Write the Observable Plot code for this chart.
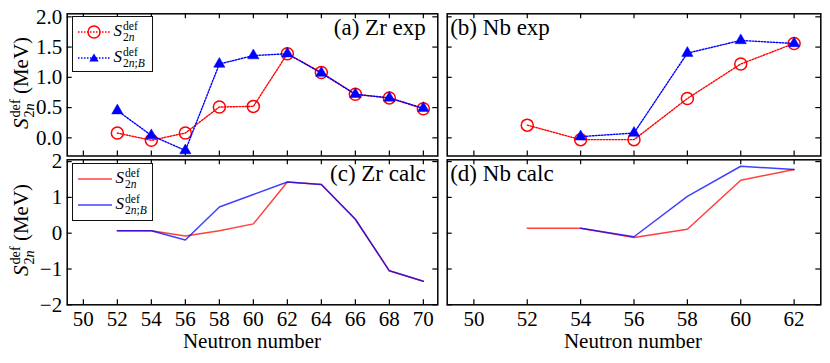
<!DOCTYPE html>
<html><head><meta charset="utf-8">
<script src="https://cdn.jsdelivr.net/npm/d3@7"></script>
<script src="https://cdn.jsdelivr.net/npm/@observablehq/plot@0.6"></script>
<style>
html,body{margin:0;padding:0;background:#fff;}
#root{position:relative;width:830px;height:363px;overflow:hidden;font-family:"Liberation Serif","DejaVu Serif",serif;color:#000;}
#root svg{font-family:"Liberation Serif",serif;}
.S{font-style:italic;}
.ss{display:inline-block;vertical-align:-0.42em;font-size:0.68em;line-height:0.95;margin-left:1px;}
.ss span{display:block;}
.ss i{font-style:italic;}
.legend{position:absolute;border:1.5px solid #111;background:#fff;box-sizing:border-box;font-family:"Liberation Serif",serif;}
.ylab{position:absolute;transform:translate(-50%,-50%) rotate(-90deg);font-size:21px;white-space:nowrap;font-family:"Liberation Serif",serif;}
.xlab{position:absolute;transform:translate(-50%,-50%);font-size:21px;white-space:nowrap;font-family:"Liberation Serif",serif;}
</style></head><body><div id="root"></div>
<script>
// ---- data ----
const neutronZr = [52, 54, 56, 58, 60, 62, 64, 66, 68, 70];
const neutronNb = [52, 54, 56, 58, 60, 62];
const zrExpS2n  = [0.08, -0.04, 0.08, 0.51, 0.52, 1.39, 1.08, 0.72, 0.66, 0.48];
const zrExpS2nB = [0.45, 0.04, -0.21, 1.22, 1.36, 1.39, 1.07, 0.72, 0.66, 0.49];
const nbExpS2n  = [0.21, -0.03, -0.03, 0.65, 1.22, 1.56];
const nbExpS2nB = [null, 0.02, 0.08, 1.40, 1.61, 1.56];
const zrCalcS2n  = [0.07, 0.07, -0.08, 0.07, 0.26, 1.43, 1.36, 0.39, -1.05, -1.34];
const zrCalcS2nB = [0.07, 0.07, -0.19, 0.73, 1.08, 1.43, 1.36, 0.39, -1.05, -1.34];
const nbCalcS2n  = [0.14, 0.14, -0.12, 0.11, 1.48, 1.78];
const nbCalcS2nB = [null, 0.14, -0.10, 1.03, 1.87, 1.78];
const xTicks = [50, 52, 54, 56, 58, 60, 62, 64, 66, 68, 70];
const xTicksNb = [50, 52, 54, 56, 58, 60, 62];
const yTicksExp = [0, 0.5, 1.0, 1.5, 2.0];
const yTicksCalc = [-2, -1, 0, 1, 2];
const panelLabels = ["(a) Zr exp", "(b) Nb exp", "(c) Zr calc", "(d) Nb calc"];

const rows = (xs, ys) => xs.map((x, i) => ({x, y: ys[i]})).filter(d => d.y != null);

const W = 830, H = 363;
const root = document.getElementById("root");
const RED = "#ff0000", BLUE = "#0000ff";
const FF = "Liberation Serif";

function panel({fl, fr, ft, fb, xDomain, yDomain, xT, yT, yFmt, showX, showY, marks, label, labelAnchor}) {
  const pw = fr - fl, ph = fb - ft, tk = 5;
  const m = [
    Plot.frame({stroke: "#000", strokeWidth: 1.5}),
    Plot.tickY(yT, {y: d => d, insetRight: pw - tk, stroke: "#000", strokeWidth: 1.2}),
    Plot.tickY(yT, {y: d => d, insetLeft: pw - tk, stroke: "#000", strokeWidth: 1.2}),
    Plot.tickX(xT, {x: d => d, insetTop: ph - tk, stroke: "#000", strokeWidth: 1.2}),
    Plot.tickX(xT, {x: d => d, insetBottom: ph - tk, stroke: "#000", strokeWidth: 1.2}),
    ...marks,
    Plot.text([label], {frameAnchor: labelAnchor, text: d => d, fontSize: 23, fontFamily: FF, dx: labelAnchor === "top-right" ? -12 : 3, dy: 5, lineAnchor: "top", fill: "#000"})
  ];
  if (showY) m.push(Plot.axisY(yT, {tickSize: 0, tickPadding: 5, tickFormat: yFmt, fontSize: 21, fontFamily: FF, label: null}));
  else m.push(Plot.axisY([], {label: null}));
  if (showX) m.push(Plot.axisX(xT, {tickSize: 0, tickPadding: 6, tickFormat: d3.format("d"), fontSize: 21, fontFamily: FF, label: null}));
  else m.push(Plot.axisX([], {label: null}));
  const svg = Plot.plot({
    width: W, height: H,
    marginLeft: fl, marginRight: W - fr, marginTop: ft, marginBottom: H - fb,
    x: {domain: xDomain},
    y: {domain: yDomain},
    style: {fontFamily: FF, fontSize: "21px", background: "transparent", color: "#000", overflow: "visible"},
    marks: m
  });
  svg.style.position = "absolute";
  svg.style.left = "0px";
  svg.style.top = "0px";
  root.appendChild(svg);
}

function expMarks(xs, a, b) {
  return [
    Plot.line(rows(xs, a), {x: "x", y: "y", stroke: RED, strokeWidth: 1.4, strokeDasharray: "1.5,1.5"}),
    Plot.dot(rows(xs, a), {x: "x", y: "y", stroke: RED, strokeWidth: 1.5, r: 6, fill: "none"}),
    Plot.line(rows(xs, b), {x: "x", y: "y", stroke: BLUE, strokeWidth: 1.4, strokeDasharray: "1.5,1.5"}),
    Plot.dot(rows(xs, b), {x: "x", y: "y", symbol: "triangle", fill: BLUE, stroke: BLUE, strokeWidth: 0.5, r: 4.2})
  ];
}
function calcMarks(xs, a, b) {
  return [
    Plot.line(rows(xs, a), {x: "x", y: "y", stroke: RED, strokeWidth: 1.5, strokeOpacity: 0.75}),
    Plot.line(rows(xs, b), {x: "x", y: "y", stroke: BLUE, strokeWidth: 1.5, strokeOpacity: 0.75})
  ];
}

const L = {fl: 66.7, fr: 437.3}, R = {fl: 446.7, fr: 820.3};
const T = {ft: 13.3, fb: 155.5}, B = {ft: 159.3, fb: 304.3};
const expY = [-0.3, 2.05], calcY = [-2.0, 2.05];
const fmt1 = d3.format(".1f"), fmt0 = d3.format("d");

panel({...L, ...T, xDomain: [49.05, 70.85], yDomain: expY, xT: xTicks, yT: yTicksExp, yFmt: fmt1, showY: true, showX: false,
  marks: expMarks(neutronZr, zrExpS2n, zrExpS2nB), label: panelLabels[0], labelAnchor: "top-right"});
panel({...R, ...T, xDomain: [49, 63], yDomain: expY, xT: xTicksNb, yT: yTicksExp, yFmt: fmt1, showY: false, showX: false,
  marks: expMarks(neutronNb, nbExpS2n, nbExpS2nB), label: panelLabels[1], labelAnchor: "top-left"});
panel({...L, ...B, xDomain: [49.05, 70.85], yDomain: calcY, xT: xTicks, yT: yTicksCalc, yFmt: fmt0, showY: true, showX: true,
  marks: calcMarks(neutronZr, zrCalcS2n, zrCalcS2nB), label: panelLabels[2], labelAnchor: "top-right"});
panel({...R, ...B, xDomain: [49, 63], yDomain: calcY, xT: xTicksNb, yT: yTicksCalc, yFmt: fmt0, showY: false, showX: true,
  marks: calcMarks(neutronNb, nbCalcS2n, nbCalcS2nB), label: panelLabels[3], labelAnchor: "top-left"});

// ---- text overlays ----
const sym2n = `<span class="S">S</span><span class="ss"><span>def</span><span>2<i>n</i></span></span>`;
const sym2nB = `<span class="S">S</span><span class="ss"><span>def</span><span>2<i>n</i>;<i>B</i></span></span>`;

function addDiv(cls, html, style) {
  const d = document.createElement("div");
  d.className = cls; d.innerHTML = html;
  Object.assign(d.style, style);
  root.appendChild(d);
  return d;
}
addDiv("ylab", `${sym2n} (MeV)`, {left: "23px", top: "83px"});
addDiv("ylab", `${sym2n} (MeV)`, {left: "23px", top: "230px"});
addDiv("xlab", "Neutron number", {left: "252px", top: "341px"});
addDiv("xlab", "Neutron number", {left: "633px", top: "341px"});

function legend(left, top, w, h, kind) {
  const box = addDiv("legend", "", {left: left + "px", top: top + "px", width: w + "px", height: h + "px"});
  const entries = [[RED, sym2n, "circle"], [BLUE, sym2nB, "triangle"]];
  entries.forEach(([c, html, shape], i) => {
    const row = document.createElement("div");
    row.style.cssText = `position:absolute;left:4px;top:${i === 0 ? 3 : 29}px;height:24px;display:flex;align-items:center;font-size:17px;`;
    let sw;
    if (kind === "exp") {
      const mk = shape === "circle"
        ? `<circle cx="17" cy="12" r="6" fill="none" stroke="${c}" stroke-width="1.5"/>`
        : `<path d="M17,7.5 L21.7,15.5 L12.3,15.5 Z" fill="${c}"/>`;
      sw = `<svg width="34" height="24"><line x1="1" x2="33" y1="12" y2="12" stroke="${c}" stroke-width="1.4" stroke-dasharray="1.5,1.5"/>${mk}</svg>`;
    } else {
      sw = `<svg width="36" height="24"><line x1="1" x2="35" y1="12" y2="12" stroke="${c}" stroke-width="1.5" stroke-opacity="0.75"/></svg>`;
    }
    row.innerHTML = sw + `<span style="margin-left:3px">${html}</span>`;
    box.appendChild(row);
  });
}
legend(71.5, 15.5, 81, 56, "exp");
legend(71.5, 163, 81, 58, "calc");
</script></body></html>
